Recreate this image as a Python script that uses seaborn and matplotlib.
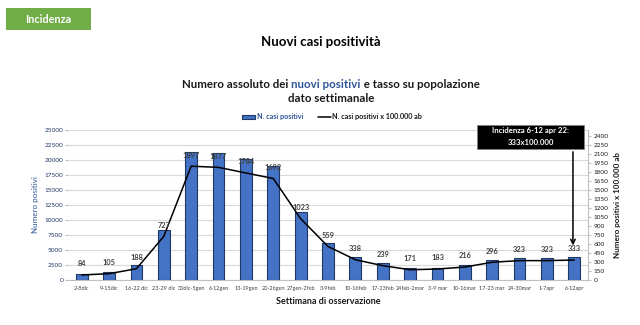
import matplotlib
matplotlib.use("Agg")
import matplotlib.pyplot as plt
import seaborn as sns
import pandas as pd
from matplotlib.patches import Rectangle, Patch
from matplotlib.lines import Line2D

weeks = ["2-8dic", "9-15dic", "16-22 dic", "23-29 dic", "30dic-5gen", "6-12gen",
         "13-19gen", "20-26gen", "27gen-2feb", "3-9feb", "10-16feb", "17-23feb",
         "24feb-2mar", "3-9 mar", "10-16mar", "17-23 mar", "24-30mar", "1-7apr", "6-12apr"]
cases = [1050, 1300, 2550, 8350, 21300, 21100, 20100, 19000, 11400, 6200,
         3900, 2780, 1950, 2080, 2420, 3320, 3640, 3640, 3760]
rate = [84, 105, 188, 727, 1897, 1877, 1784, 1692, 1023, 559,
        338, 239, 171, 183, 216, 296, 323, 323, 333]

sns.set_style("white")
plt.rcParams['font.family'] = ['Lato', 'DejaVu Sans']

df = pd.DataFrame({"week": weeks, "cases": cases, "rate": rate})
n = len(weeks)

fig = plt.figure(figsize=(6.4, 3.25), dpi=100)
ax = fig.add_axes([68 / 640, 1 - 280 / 325, (588 - 68) / 640, 150 / 325])

BLUE = "#4472C4"
NAVY = "#1F3864"
TXTBLUE = "#2F5597"

sns.barplot(data=df, x="week", y="cases", order=weeks, color=BLUE, width=0.43,
            edgecolor="#1F3864", linewidth=0.8, saturation=1, ax=ax, zorder=3)
ax.set_ylim(0, 25000)
ax.set_yticks(range(0, 25001, 2500))
ax.set_xlim(-0.5, n - 0.5)
ax.yaxis.grid(True, color="#D9D9D9", linewidth=0.8, zorder=0)
ax.set_axisbelow(True)
for s in ["top", "right", "left"]:
    ax.spines[s].set_visible(False)
ax.spines["bottom"].set_color("#BFBFBF")
ax.spines["bottom"].set_linewidth(0.8)
ax.tick_params(axis="y", labelsize=4.6, colors=NAVY, length=2, color="#BFBFBF", pad=1.5)
ax.tick_params(axis="x", labelsize=4.0, colors="#404040", length=0, pad=4)
ax.set_ylabel("Numero positivi", fontsize=5.8, color=TXTBLUE, labelpad=4)
ax.set_xlabel("Settimana di osservazione", fontsize=6.5, fontweight="bold",
              color="#1a1a1a", labelpad=5)

ax2 = ax.twinx()
sns.pointplot(data=df, x="week", y="rate", order=weeks, color="black",
              markers="", linestyles="-", ax=ax2, zorder=4)
for l in ax2.lines:
    l.set_linewidth(1.1)
ax2.set_ylim(0, 2500)
ax2.set_yticks(range(0, 2401, 150))
ax2.set_xlim(-0.5, n - 0.5)
for s in ["top", "left", "bottom"]:
    ax2.spines[s].set_visible(False)
ax2.spines["right"].set_color("#BFBFBF")
ax2.spines["right"].set_linewidth(0.8)
ax2.tick_params(axis="y", labelsize=4.6, colors="#1a1a1a", length=2, color="#BFBFBF", pad=2)
ax2.set_ylabel("Numero positivi x 100.000 ab", fontsize=5.8, fontweight="bold",
               color="#1a1a1a", labelpad=4)

for i, v in enumerate(rate):
    ax2.annotate(str(v), (i, v), xytext=(0, 5.5), textcoords="offset points",
                 ha="center", va="bottom", fontsize=5.3, fontweight="bold",
                 color="#404040", zorder=6)

# arrow annotation box
bx0, bx1, by0, by1 = 477, 584, 125, 149
fig.patches.append(Rectangle((bx0 / 640, 1 - by1 / 325), (bx1 - bx0) / 640, (by1 - by0) / 325,
                             transform=fig.transFigure, facecolor="black", edgecolor="#7F7F7F",
                             linewidth=0.6, zorder=10))
fig.text((bx0 + bx1) / 2 / 640, 1 - 131 / 325, "Incidenza 6-12 apr 22:", ha="center", va="center",
         fontsize=5.6, fontweight="bold", color="white", zorder=11)
fig.text((bx0 + bx1) / 2 / 640, 1 - 142.5 / 325, "333x100.000", ha="center", va="center",
         fontsize=5.6, fontweight="bold", color="white", zorder=11)
ax2.annotate("", xy=(n - 1 - 0.05, 530), xycoords="data",
             xytext=(n - 1 - 0.05, 2182), textcoords="data",
             arrowprops=dict(arrowstyle="->", color="black", lw=1.1, mutation_scale=8),
             annotation_clip=False, zorder=9)

# header box
fig.patches.append(Rectangle((6 / 640, 1 - 30 / 325), 85 / 640, 22 / 325, transform=fig.transFigure,
                             facecolor="#70AD47", edgecolor="none"))
fig.text(48.5 / 640, 1 - 19.5 / 325, "Incidenza", ha="center", va="center", fontsize=7.8,
         fontweight="bold", color="white")

fig.text(321 / 640, 1 - 42 / 325, "Nuovi casi positività", ha="center", va="center",
         fontsize=9.5, fontweight="bold", color="black")

# multi-colour subtitle
fig.canvas.draw()
r = fig.canvas.get_renderer()
parts = [("Numero assoluto dei ", "#1a1a1a"), ("nuovi positivi", TXTBLUE),
         (" e tasso su popolazione", "#1a1a1a")]
objs = []
for t, c in parts:
    objs.append(fig.text(0, 1 - 84 / 325, t, ha="left", va="center", fontsize=8.3,
                         fontweight="bold", color=c))
widths = [o.get_window_extent(r).width for o in objs]
total = sum(widths)
x = 331 - total / 2
for o, w in zip(objs, widths):
    o.set_x(x / 640)
    x += w
fig.text(331 / 640, 1 - 99 / 325, "dato settimanale", ha="center", va="center",
         fontsize=8.3, fontweight="bold", color="#1a1a1a")

handles = [Patch(facecolor=BLUE, edgecolor=NAVY, linewidth=0.8),
           Line2D([0], [0], color="black", lw=1.1)]
leg = fig.legend(handles, ["N. casi positivi", "N. casi positivi x 100.000 ab"],
                 loc="center", bbox_to_anchor=(332 / 640, 1 - 117 / 325), ncol=2,
                 frameon=False, fontsize=5.2, handlelength=1.8, handleheight=0.6,
                 handletextpad=0.2, columnspacing=2.0)
cols = [TXTBLUE, "#1a1a1a"]
for t, c in zip(leg.get_texts(), cols):
    t.set_color(c)
    t.set_fontweight("bold")

fig.savefig("out.png", dpi=100)
